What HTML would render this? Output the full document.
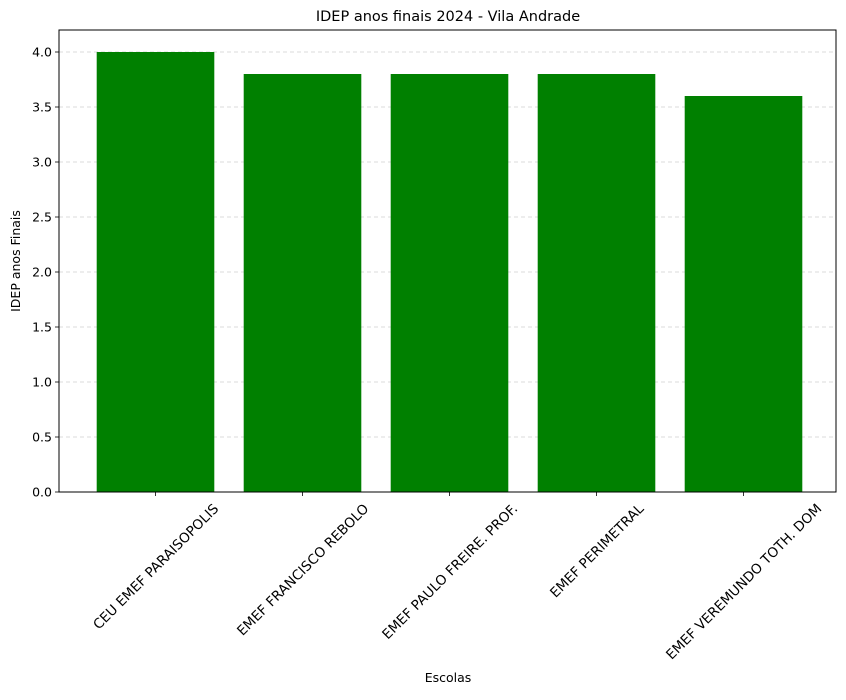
<!DOCTYPE html>
<html><head><meta charset="utf-8"><style>
body{margin:0;background:#fff;}
svg text{font-family:"DejaVu Sans","Liberation Sans",sans-serif;fill:#000;}
</style></head><body>
<svg id="chart" width="846" height="695" xmlns="http://www.w3.org/2000/svg">
<rect width="846" height="695" fill="#fff"/>
<text x="448" y="21" font-size="14.5" text-anchor="middle">IDEP anos finais 2024 - Vila Andrade</text>
<g id="grid"></g><g id="bars"></g><g id="axes"></g>
<text x="448" y="682" font-size="12.5" text-anchor="middle">Escolas</text>
<text x="20" y="261" font-size="12.5" text-anchor="middle" transform="rotate(-90 20 261)">IDEP anos Finais</text>
</svg>
<script>
const categories=["CEU EMEF PARAISOPOLIS","EMEF FRANCISCO REBOLO","EMEF PAULO FREIRE. PROF.","EMEF PERIMETRAL","EMEF VEREMUNDO TOTH. DOM"];
const values=[4.0,3.8,3.8,3.8,3.6];
const yTicks=[0,0.5,1.0,1.5,2.0,2.5,3.0,3.5,4.0];
const yTickLabels=["0.0","0.5","1.0","1.5","2.0","2.5","3.0","3.5","4.0"];
const NS="http://www.w3.org/2000/svg";
const L=59,R=836,T=30,B=492;
const yMax=4.2;
const n=categories.length;
const unit=147;
const xMin=-(155.5-L)/unit;
const xs=i=>L+(i-xMin)*unit;
const ys=v=>B-v/yMax*(B-T);
function mk(t,a,p){const e=document.createElementNS(NS,t);for(const k in a)e.setAttribute(k,a[k]);p.appendChild(e);return e;}
const grid=document.getElementById('grid'),bars=document.getElementById('bars'),axes=document.getElementById('axes');
yTicks.forEach((v,i)=>{
  const y=ys(v);
  const g=mk('line',{x1:L,x2:R,y1:y,y2:y,stroke:'#d0d0d0','stroke-dasharray':'4,3','stroke-width':0.8},grid);
  
  
  const tk=mk('line',{x1:L-4,x2:L,y1:y,y2:y,stroke:'#000','stroke-width':0.8},axes);
  
  
  const t=mk('text',{x:L-7,y:y+4.5,'font-size':12.5,'text-anchor':'end'},axes);
  t.textContent=yTickLabels[i];
  
  
});
values.forEach((v,i)=>{
  const cx=xs(i),w=0.8*unit;
  const b=mk('rect',{x:cx-w/2,y:ys(v),width:w,height:B-ys(v),fill:'#008000'},bars);
  
  
  const tk=mk('line',{x1:cx,x2:cx,y1:B,y2:B+4,stroke:'#000','stroke-width':0.8},axes);
  
  
  const t=mk('text',{x:0,y:0,'font-size':13.6,'text-anchor':'middle'},axes);
  t.textContent=categories[i];
  
  
  const len=t.getComputedTextLength();
  const cy=B+9+(len*0.7071+14*0.7071)/2;
  t.setAttribute('transform','translate('+cx+','+cy+') rotate(-45) translate(0,5)');
});
const fr=mk('rect',{x:L,y:T,width:R-L,height:B-T,fill:'none',stroke:'#000','stroke-width':1},axes);


</script>
</body></html>
